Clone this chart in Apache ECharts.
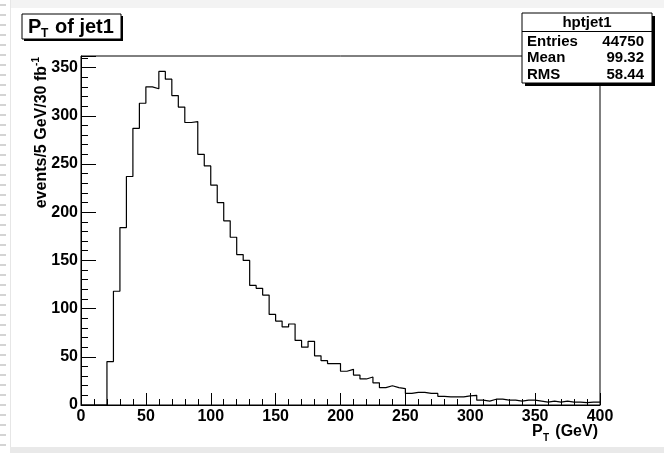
<!DOCTYPE html>
<html>
<head>
<meta charset="utf-8">
<title>P_T of jet1</title>
<script src="https://cdn.jsdelivr.net/npm/echarts@6/dist/echarts.min.js"></script>
<style>
  html, body { margin: 0; padding: 0; background: #ffffff; }
  #chart { width: 664px; height: 453px; }
</style>
</head>
<body>
<div id="chart"></div>
<script>
// Histogram hptjet1: leading-jet transverse momentum, 5 GeV bins from 0 to 400 GeV
const binEdges = [
  0, 5, 10, 15, 20, 25, 30, 35, 40, 45, 50, 55, 60, 65, 70, 75, 80, 85, 90, 95,
  100, 105, 110, 115, 120, 125, 130, 135, 140, 145, 150, 155, 160, 165, 170, 175, 180, 185, 190, 195,
  200, 205, 210, 215, 220, 225, 230, 235, 240, 245, 250, 255, 260, 265, 270, 275, 280, 285, 290, 295,
  300, 305, 310, 315, 320, 325, 330, 335, 340, 345, 350, 355, 360, 365, 370, 375, 380, 385, 390, 395,
  400
];

// events / 5 GeV / 30 fb^-1 in each bin
const binContents = [
  0, 0, 0, 0, 45, 118, 184, 237, 287, 313, 330, 328, 346, 338, 321, 309, 293, 294, 260, 248,
  228, 210, 191, 174, 156, 150, 124, 121, 114, 94, 87, 81, 84, 67, 60, 66, 51, 46, 43, 43,
  35, 37, 31, 27, 29, 23, 18, 20, 18, 17, 12, 13, 13, 12, 12, 9, 8.5, 8.5, 8.5, 9.5,
  10, 5, 4, 6, 6, 5, 5, 4, 5, 5, 4, 3, 4, 3, 4, 3, 3, 2.5, 3, 3
];

const xTicks = { min: 0, max: 400, step: 50 };
const yTicks = { min: 0, max: 362, step: 50 };

const statsRows = [
  ['Entries', '44750'],
  ['Mean', '99.32'],
  ['RMS', '58.44']
];
const histName = 'hptjet1';

// step outline: each bin edge carries the bin content to its right, last edge closes the final bin
const stepPoints = binEdges.map((e, i) => [e, i < binContents.length ? binContents[i] : binContents[binContents.length - 1]]);

const FONT = 'Liberation Sans, Arial, Helvetica, sans-serif';

const chart = echarts.init(document.getElementById('chart'), null, { renderer: 'canvas' });

// left-edge dashed strip and light canvas border
const decor = [];
for (let y = 4; y < 453; y += 10) {
  decor.push({ type: 'rect', shape: { x: 0, y: y, width: 6, height: 2 }, style: { fill: '#d4d4d4' }, silent: true });
}
decor.push({ type: 'rect', shape: { x: 10, y: 0, width: 654, height: 8 }, style: { fill: '#f3f3f3' }, silent: true });
decor.push({ type: 'rect', shape: { x: 10, y: 0, width: 1, height: 453 }, style: { fill: '#e6e6e6' }, silent: true });
decor.push({ type: 'rect', shape: { x: 10, y: 447, width: 654, height: 6 }, style: { fill: '#e9e9e9' }, silent: true });

const statLineH = 16.5;
const statChildren = [
  { type: 'rect', shape: { x: 525, y: 16, width: 130, height: 70 }, style: { fill: '#000' } },
  { type: 'rect', shape: { x: 522, y: 13, width: 130, height: 70 }, style: { fill: '#fff', stroke: '#000', lineWidth: 1 } },
  { type: 'line', shape: { x1: 522, y1: 31.5, x2: 652, y2: 31.5 }, style: { stroke: '#000', lineWidth: 1 } },
  { type: 'text', x: 587, y: 22.5, style: { text: histName, font: 'bold 15px ' + FONT, fill: '#000', align: 'center', verticalAlign: 'middle' } }
];
statsRows.forEach((r, i) => {
  statChildren.push({ type: 'text', x: 527, y: 41.5 + i * statLineH, style: { text: r[0], font: 'bold 15px ' + FONT, fill: '#000', align: 'left', verticalAlign: 'middle' } });
  statChildren.push({ type: 'text', x: 644, y: 41.5 + i * statLineH, style: { text: r[1], font: 'bold 15px ' + FONT, fill: '#000', align: 'right', verticalAlign: 'middle' } });
});

const option = {
  backgroundColor: '#ffffff',
  animation: false,
  grid: {
    left: 81, right: 64, top: 56, bottom: 48,
    show: true, borderColor: '#000', borderWidth: 1, backgroundColor: 'transparent'
  },
  xAxis: {
    type: 'value',
    min: xTicks.min, max: xTicks.max, interval: xTicks.step,
    axisLine: { show: true, lineStyle: { color: '#000', width: 1 } },
    axisTick: { show: true, inside: true, length: 12, lineStyle: { color: '#000', width: 1 } },
    minorTick: { show: true, splitNumber: 5, length: 6, lineStyle: { color: '#000', width: 1 } },
    splitLine: { show: false },
    axisLabel: { color: '#000', fontFamily: FONT, fontWeight: 'bold', fontSize: 16, margin: 4 }
  },
  yAxis: {
    type: 'value',
    min: yTicks.min, max: yTicks.max, interval: yTicks.step,
    axisLine: { show: true, lineStyle: { color: '#000', width: 1 } },
    axisTick: { show: true, inside: true, length: 15, lineStyle: { color: '#000', width: 1 } },
    minorTick: { show: true, splitNumber: 5, length: 7, lineStyle: { color: '#000', width: 1 } },
    splitLine: { show: false },
    axisLabel: { color: '#000', fontFamily: FONT, fontWeight: 'bold', fontSize: 16, margin: 3, showMaxLabel: false }
  },
  series: [{
    type: 'line',
    name: histName,
    step: 'end',
    data: stepPoints,
    symbol: 'none',
    lineStyle: { color: '#000', width: 1.2 },
    silent: true
  }],
  graphic: [
    ...decor,
    // title box
    { type: 'rect', shape: { x: 24, y: 16, width: 99, height: 25 }, style: { fill: '#000' }, silent: true },
    { type: 'rect', shape: { x: 22, y: 14, width: 99, height: 25 }, style: { fill: '#fff', stroke: '#000', lineWidth: 1 }, silent: true },
    { type: 'text', x: 28, y: 27, style: { text: 'P', font: 'bold 20px ' + FONT, fill: '#000', verticalAlign: 'middle' }, silent: true },
    { type: 'text', x: 41, y: 34, style: { text: 'T', font: 'bold 12px ' + FONT, fill: '#000', verticalAlign: 'middle' }, silent: true },
    { type: 'text', x: 55, y: 27, style: { text: 'of jet1', font: 'bold 20px ' + FONT, fill: '#000', verticalAlign: 'middle' }, silent: true },
    // statistics box
    { type: 'group', children: statChildren, silent: true },
    // x axis title
    { type: 'text', x: 532, y: 432, style: { text: 'P', font: 'bold 16px ' + FONT, fill: '#000', verticalAlign: 'middle' }, silent: true },
    { type: 'text', x: 543, y: 438, style: { text: 'T', font: 'bold 10px ' + FONT, fill: '#000', verticalAlign: 'middle' }, silent: true },
    { type: 'text', x: 598, y: 432, style: { text: '(GeV)', font: 'bold 16px ' + FONT, fill: '#000', align: 'right', verticalAlign: 'middle' }, silent: true },
    // y axis title, reading bottom to top
    {
      type: 'group', x: 42, y: 57, rotation: Math.PI / 2, silent: true,
      children: [
        { type: 'text', x: -9, y: 0, style: { text: 'events/5 GeV/30 fb', font: 'bold 16px ' + FONT, fill: '#000', align: 'right', verticalAlign: 'middle' } },
        { type: 'text', x: 0, y: -6, style: { text: '-1', font: 'bold 10px ' + FONT, fill: '#000', align: 'right', verticalAlign: 'middle' } }
      ]
    }
  ]
};

chart.setOption(option);
</script>
</body>
</html>
